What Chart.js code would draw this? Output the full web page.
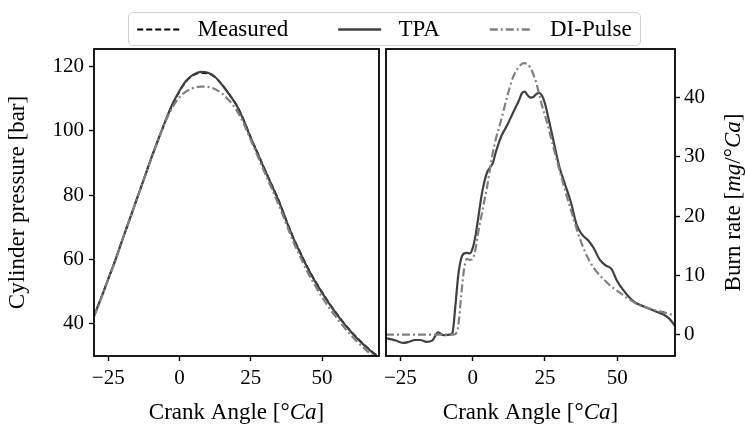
<!DOCTYPE html>
<html>
<head>
<meta charset="utf-8">
<script src="https://cdn.jsdelivr.net/npm/chart.js@4.4.0/dist/chart.umd.min.js"></script>
<style>
  body { margin: 0; background: #fff; width: 746px; height: 430px; position: relative; overflow: hidden; }
  canvas { position: absolute; }
  #legendBox { position: absolute; left: 128px; top: 12px; width: 513px; height: 34px; box-sizing: border-box;
               border: 1px solid #cfcfcf; border-radius: 5px; }
  #legendChart { left: 23px; top: -32px; }
  #pressureChart { left: 0; top: 47px; }
  #burnChart { left: 383px; top: 47px; }
</style>
</head>
<body>
<div id="legendBox"></div>
<canvas id="legendChart" width="723" height="300"></canvas>
<canvas id="pressureChart" width="382" height="383"></canvas>
<canvas id="burnChart" width="363" height="383"></canvas>
<script>
// Tick labels
const angleTicks = [-25, 0, 25, 50];
const pressureTicks = [40, 60, 80, 100, 120];
const burnTicks = [0, 10, 20, 30, 40];

// Left panel: cylinder pressure [bar]
const pressureAngles = [-30, -27.5, -25, -22.5, -20, -17.5, -15, -12.5, -10, -7.5, -5, -2.5, 0, 2.5, 5, 7.5, 10,
  12.5, 15, 17.5, 20, 22.5, 25, 27.5, 30, 32.5, 35, 37.5, 40, 42.5, 45, 47.5, 50, 52.5, 55, 57.5, 60, 62.5, 65, 67.5, 70];
const pressureMeasured = [42.6, 48.1, 54.0, 59.9, 66.3, 72.5, 78.8, 85.0, 91.3, 97.2, 102.9, 108.1, 112.3, 115.6, 117.4,
  118.1, 117.9, 116.7, 114.3, 111.4, 108.1, 103.5, 98.0, 93.0, 87.9, 83.0, 78.0, 72.2, 66.7, 62.0, 57.5, 53.5, 49.9,
  46.5, 43.4, 40.5, 37.9, 35.5, 33.4, 31.4, 29.7];
const pressureTPA = [42.5, 48.0, 54.0, 59.8, 66.3, 72.5, 78.8, 85.0, 91.3, 97.3, 103.0, 108.3, 112.5, 115.8, 117.6,
  118.4, 118.1, 116.8, 114.3, 111.3, 108.0, 103.3, 97.8, 92.8, 87.7, 82.8, 77.8, 72.0, 66.5, 61.8, 57.3, 53.3, 49.7,
  46.3, 43.2, 40.3, 37.7, 35.3, 33.2, 31.2, 29.5];
const pressureDIPulse = [42.3, 47.9, 53.9, 59.7, 66.2, 72.4, 78.7, 84.9, 91.2, 97.1, 102.8, 107.3, 110.5, 112.4, 113.4,
  113.8, 113.7, 113.0, 111.6, 109.4, 106.5, 102.3, 97.2, 92.0, 86.8, 81.8, 76.6, 71.0, 65.4, 60.6, 56.0, 52.0, 48.3,
  45.0, 42.0, 39.2, 36.6, 34.3, 32.2, 30.2, 28.5];

// Right panel: burn rate [mg/°Ca]
const burnAngles = [-30, -28, -26, -24, -22, -20, -18, -16, -14, -12, -10, -8, -7, -6, -5, -4, -3, -2, -1, 0, 1, 2, 3,
  4, 5, 6, 7, 8, 10, 12, 14, 16, 17, 18, 19, 20, 21, 22, 23, 24, 25, 26, 27, 28, 30, 32, 34, 36, 38, 40, 42, 44, 46, 48,
  50, 52, 54, 56, 58, 60, 62, 64, 66, 68, 70];
const burnTPA = [-0.6, -0.8, -1.1, -1.4, -1.2, -0.9, -0.9, -1.2, -1.0, 0.4, -0.1, 0.0, 0.3, 4.8, 10.0, 12.8, 13.7, 13.8,
  13.7, 14.6, 16.8, 20.0, 23.3, 25.7, 27.4, 28.2, 29.0, 30.8, 33.6, 35.4, 37.5, 39.5, 40.7, 41.0, 40.4, 40.0, 40.1, 40.6,
  40.8, 40.3, 39.0, 37.0, 34.8, 32.6, 28.3, 25.3, 22.3, 18.5, 16.8, 15.9, 14.5, 12.6, 11.7, 11.1, 9.0, 7.6, 6.4, 5.5,
  5.0, 4.6, 4.2, 3.8, 3.4, 2.7, 1.5];
const burnDIPulse = [0, 0, 0, 0, 0, 0, 0, 0, 0, 0, 0, 0, 0, 0.1, 1.5, 6.5, 11.0, 12.8, 12.6, 12.8, 14.5, 17.5, 20.0,
  22.5, 25.0, 28.0, 30.8, 33.0, 36.5, 40.3, 43.5, 45.2, 45.7, 45.8, 45.6, 45.0, 43.9, 42.5, 40.6, 38.6, 37.0, 35.3, 33.4,
  31.5, 27.8, 24.3, 21.0, 17.8, 15.0, 12.8, 11.2, 10.0, 9.0, 8.1, 7.4, 6.7, 6.0, 5.4, 4.9, 4.6, 4.3, 4.0, 3.8, 3.5, 3.2];

const serif = "'Liberation Serif', 'Times New Roman', serif";
const fontSize = 23;
const tickFontSize = 21;
Chart.defaults.font.family = serif;
Chart.defaults.font.size = fontSize;
Chart.defaults.color = '#000';

const styles = {
  measured: { label: 'Measured', borderColor: '#000000', borderDash: [6, 3], borderWidth: 1.8 },
  tpa: { label: 'TPA', borderColor: '#404040', borderDash: [], borderWidth: 2.2 },
  di: { label: 'DI-Pulse', borderColor: '#808080', borderDash: [8, 3, 2, 3], borderWidth: 2.2 }
};
// drawing order inside the panels: DI-Pulse on top, then TPA, then Measured
const drawOrder = { measured: 3, tpa: 2, di: 1 };

function toPoints(xs, ys) {
  return xs.map((x, i) => ({ x: x, y: ys[i] }));
}

function line(key, xs, ys) {
  return Object.assign({}, styles[key], {
    data: toPoints(xs, ys),
    order: drawOrder[key],
    pointRadius: 0,
    fill: false,
    cubicInterpolationMode: 'monotone'
  });
}

// draw text made of upright and italic runs, centred on (cx, cy)
function drawRuns(ctx, runs, cx, cy, angle) {
  ctx.save();
  ctx.translate(cx, cy);
  ctx.rotate(angle);
  ctx.textBaseline = 'middle';
  ctx.textAlign = 'left';
  ctx.fillStyle = '#000';
  let total = 0;
  runs.forEach(r => {
    ctx.font = (r.italic ? 'italic ' : '') + fontSize + 'px ' + serif;
    r.w = ctx.measureText(r.text).width;
    total += r.w;
  });
  let x = -total / 2;
  runs.forEach(r => {
    ctx.font = (r.italic ? 'italic ' : '') + fontSize + 'px ' + serif;
    ctx.fillText(r.text, x, 0);
    x += r.w;
  });
  ctx.restore();
}

const angleTitle = [{ text: 'Crank Angle [\u00b0' }, { text: 'Ca', italic: true }, { text: ']' }];

const framePlugin = {
  id: 'frame',
  afterDatasetsDraw(chart) {
    const { ctx, chartArea: a } = chart;
    ctx.save();
    ctx.strokeStyle = '#000';
    ctx.lineWidth = 1.8;
    ctx.strokeRect(a.left, a.top, a.right - a.left, a.bottom - a.top);
    ctx.restore();
  }
};

const titlesPlugin = {
  id: 'titles',
  afterDraw(chart, args, opts) {
    const a = chart.chartArea;
    drawRuns(chart.ctx, angleTitle, (a.left + a.right) / 2, 366, 0);
    if (opts.yRuns) {
      drawRuns(chart.ctx, opts.yRuns, opts.yX, (a.top + a.bottom) / 2, -Math.PI / 2);
    }
  }
};

const tickGrid = {
  display: true,
  drawOnChartArea: false,
  drawTicks: true,
  tickLength: 5,
  tickWidth: 1.4,
  tickColor: '#000'
};

function angleAxis() {
  return {
    type: 'linear',
    min: -30,
    max: 70,
    afterBuildTicks: s => { s.ticks = angleTicks.map(v => ({ value: v })); },
    afterFit: s => { s.height = 74; s.paddingLeft = 0; s.paddingRight = 0; },
    ticks: { padding: 5, maxRotation: 0, font: { size: tickFontSize },
             callback: v => v < 0 ? '\u2212' + Math.abs(v) : String(v) },
    grid: tickGrid,
    border: { display: false }
  };
}

// Legend (shared by both panels)
new Chart(document.getElementById('legendChart'), {
  type: 'line',
  data: {
    datasets: [
      Object.assign({}, styles.measured, { data: [] }),
      Object.assign({}, styles.tpa, { data: [] }),
      Object.assign({}, styles.di, { data: [] })
    ]
  },
  options: {
    responsive: false,
    animation: false,
    events: [],
    scales: { x: { display: false }, y: { display: false } },
    plugins: {
      legend: {
        position: 'top',
        labels: {
          usePointStyle: true,
          pointStyle: 'line',
          pointStyleWidth: 43,
          padding: 50,
          color: '#000',
          generateLabels: chart => chart.data.datasets.map((ds, i) => ({
            text: ' ' + ds.label,
            datasetIndex: i,
            pointStyle: 'line',
            strokeStyle: ds.borderColor,
            fillStyle: ds.borderColor,
            lineWidth: ds.borderWidth + 0.3,
            lineDash: ds.borderDash,
            fontColor: '#000',
            hidden: false
          }))
        }
      },
      tooltip: { enabled: false }
    }
  }
});

// Cylinder pressure
new Chart(document.getElementById('pressureChart'), {
  type: 'line',
  data: {
    datasets: [
      line('measured', pressureAngles, pressureMeasured),
      line('tpa', pressureAngles, pressureTPA),
      line('di', pressureAngles, pressureDIPulse)
    ]
  },
  options: {
    responsive: false,
    animation: false,
    events: [],
    layout: { padding: { top: 2, right: 3, left: 0, bottom: 0 } },
    scales: {
      x: angleAxis(),
      y: {
        type: 'linear',
        min: 30,
        max: 125.5,
        afterBuildTicks: s => { s.ticks = pressureTicks.map(v => ({ value: v })); },
        afterFit: s => { s.width = 94; s.paddingTop = 0; s.paddingBottom = 0; },
        ticks: { padding: 5, font: { size: tickFontSize } },
        grid: tickGrid,
        border: { display: false },
        title: { display: true, text: 'Cylinder pressure [bar]', padding: { top: 4.2, bottom: 0 } }
      }
    },
    plugins: { legend: { display: false }, tooltip: { enabled: false } }
  },
  plugins: [framePlugin, titlesPlugin]
});

// Burn rate
new Chart(document.getElementById('burnChart'), {
  type: 'line',
  data: {
    datasets: [
      line('tpa', burnAngles, burnTPA),
      line('di', burnAngles, burnDIPulse)
    ]
  },
  options: {
    responsive: false,
    animation: false,
    events: [],
    layout: { padding: { top: 2, right: 0, left: 3, bottom: 0 } },
    scales: {
      x: angleAxis(),
      y: {
        type: 'linear',
        position: 'right',
        min: -3.6,
        max: 48.2,
        afterBuildTicks: s => { s.ticks = burnTicks.map(v => ({ value: v })); },
        afterFit: s => { s.width = 71; s.paddingTop = 0; s.paddingBottom = 0; },
        ticks: { padding: 4, font: { size: tickFontSize } },
        grid: tickGrid,
        border: { display: false }
      }
    },
    plugins: {
      legend: { display: false },
      tooltip: { enabled: false },
      titles: {
        yX: 351,
        yRuns: [{ text: 'Burn rate [' }, { text: 'mg', italic: true }, { text: '/\u00b0' },
                { text: 'Ca', italic: true }, { text: ']' }]
      }
    }
  },
  plugins: [framePlugin, titlesPlugin]
});
</script>
</body>
</html>
